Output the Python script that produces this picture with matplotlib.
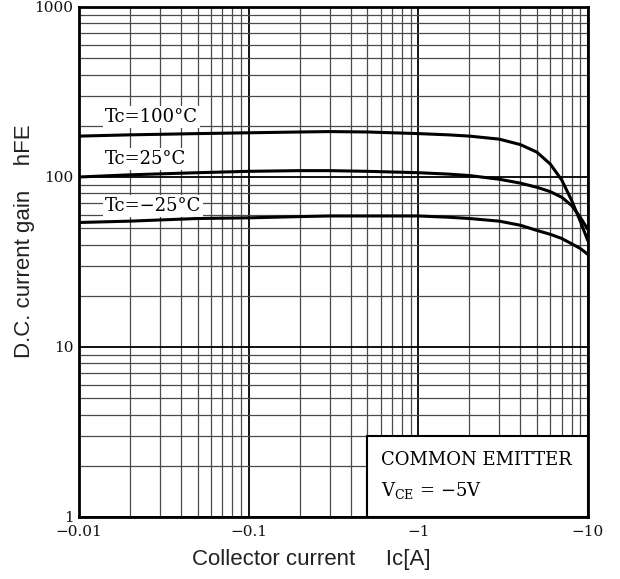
import matplotlib
matplotlib.use("Agg")
import matplotlib.pyplot as plt
from matplotlib.patches import Rectangle
from matplotlib.ticker import FixedLocator, NullFormatter, LogLocator

plt.rcParams['mathtext.fontset'] = 'dejavuserif'

# Data (collector current magnitude [A], DC current gain hFE)
ic = [0.01, 0.02, 0.05, 0.1, 0.2, 0.3, 0.5, 1, 1.5, 2, 3, 4, 5, 6, 7, 8, 9, 10]
hfe_100 = [174, 177, 180, 182, 184, 185, 184, 180, 177, 174, 167, 155, 140, 119, 96, 73, 55, 42]
hfe_25 = [100, 103, 106, 108, 109, 109, 108, 106, 104, 102, 97, 92, 87, 82, 76, 68, 58, 49]
hfe_m25 = [54, 55, 57, 57.5, 58.5, 59, 59, 59, 58, 57, 55, 52, 48.5, 46, 43.5, 40.5, 38, 35]

series_labels = ["Tc=100°C", "Tc=25°C", "Tc=−25°C"]
label_y = [225, 127.6, 67.5]

x_ticks = [0.01, 0.1, 1, 10]
x_ticklabels = ["−0.01", "−0.1", "−1", "−10"]
y_ticks = [1, 10, 100, 1000]
y_ticklabels = ["1", "10", "100", "1000"]

fig = plt.figure(figsize=(6.2, 5.79), dpi=100)
ax = fig.add_axes([79/620, 1-517/579, (588-79)/620, (517-7)/579])
ax.set_xscale('log')
ax.set_yscale('log')
ax.set_xlim(0.01, 10)
ax.set_ylim(1, 1000)

ax.xaxis.set_major_locator(FixedLocator(x_ticks))
ax.yaxis.set_major_locator(FixedLocator(y_ticks))
ax.xaxis.set_minor_locator(LogLocator(base=10, subs=range(2, 10)))
ax.yaxis.set_minor_locator(LogLocator(base=10, subs=range(2, 10)))
ax.xaxis.set_minor_formatter(NullFormatter())
ax.yaxis.set_minor_formatter(NullFormatter())
ax.set_xticklabels(x_ticklabels, family='DejaVu Serif', fontsize=11, color='#111111')
ax.set_yticklabels(y_ticklabels, family='DejaVu Serif', fontsize=11, color='#111111')
ax.tick_params(which='both', length=0)
ax.tick_params(axis='x', pad=6)
ax.tick_params(axis='y', pad=4)

ax.grid(True, which='major', color='black', lw=1.3, zorder=0)
ax.grid(True, which='minor', color='#4a4a4a', lw=0.9, zorder=0)
ax.set_axisbelow(True)

for s in ax.spines.values():
    s.set_linewidth(2)
    s.set_color('black')

for y in (hfe_100, hfe_25, hfe_m25):
    ax.plot(ic, y, color='black', lw=2.2, zorder=3, solid_capstyle='butt',
            solid_joinstyle='round')

for lab, yv in zip(series_labels, label_y):
    ax.text(0.0142, yv, lab, family='DejaVu Serif', fontsize=13, ha='left', va='center',
            zorder=4, bbox=dict(fc='white', ec='none', pad=1.5))

# condition box
ax.add_patch(Rectangle((0.5, 1), 9.5, 2, fc='white', ec='black', lw=1.5, zorder=5))
ax.text(0.6, 2.16, "COMMON EMITTER", family='DejaVu Serif', fontsize=13,
        ha='left', va='center', zorder=6)
ax.text(0.6, 1.44, r"V$_{\rm CE}$ = −5V", family='DejaVu Serif', fontsize=13,
        ha='left', va='center', zorder=6)

fig.text(192/620, 1-560/579, "Collector current     Ic[A]", family='Liberation Sans',
         fontsize=16, ha='left', va='center', color='#222222')
fig.text(25/620, 1-358/579, "D.C. current gain    hFE", family='Liberation Sans',
         fontsize=16, ha='center', va='bottom', rotation=90, color='#222222')

fig.savefig("out.png", dpi=100, facecolor='white')
